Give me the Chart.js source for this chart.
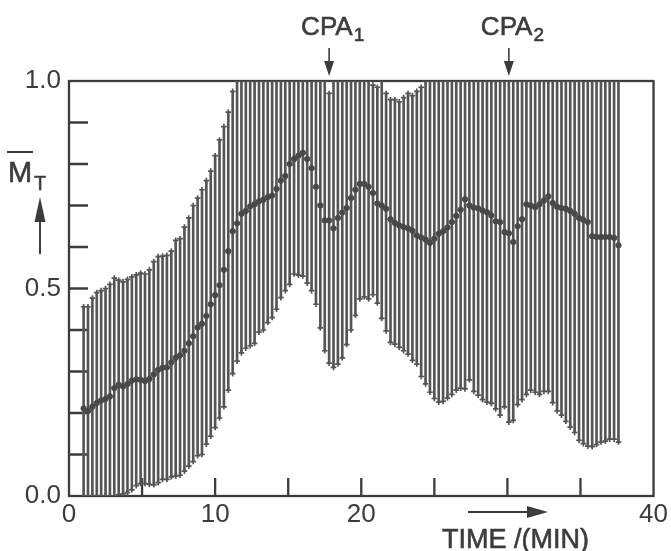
<!DOCTYPE html>
<html>
<head>
<meta charset="utf-8">
<script src="https://cdn.jsdelivr.net/npm/chart.js@4.4.1/dist/chart.umd.min.js"></script>
<style>
  html, body { margin: 0; background: #fff; }
  #wrap { width: 671px; height: 551px; }
</style>
</head>
<body>
<div id="wrap"><canvas id="chart"></canvas></div>
<script>
// time in minutes, one sample per bar
const times = [
  1.0, 1.3, 1.6, 1.9, 2.2, 2.5, 2.8, 3.1, 3.4, 3.7,
  4.0, 4.3, 4.6, 4.9, 5.2, 5.5, 5.8, 6.1, 6.4, 6.7,
  7.0, 7.3, 7.6, 7.9, 8.2, 8.5, 8.8, 9.1, 9.4, 9.7,
  10.0, 10.3, 10.6, 10.9, 11.2, 11.5, 11.8, 12.1, 12.4, 12.7,
  13.0, 13.3, 13.6, 13.9, 14.2, 14.5, 14.8, 15.1, 15.4, 15.7,
  16.0, 16.3, 16.6, 16.9, 17.2, 17.5, 17.8, 18.1, 18.4, 18.7,
  19.0, 19.3, 19.6, 19.9, 20.2, 20.5, 20.8, 21.1, 21.4, 21.7,
  22.0, 22.3, 22.6, 22.9, 23.2, 23.5, 23.8, 24.1, 24.4, 24.7,
  25.0, 25.3, 25.6, 25.9, 26.2, 26.5, 26.8, 27.1, 27.4, 27.7,
  28.0, 28.3, 28.6, 28.9, 29.2, 29.5, 29.8, 30.1, 30.4, 30.7,
  31.0, 31.3, 31.6, 31.9, 32.2, 32.5, 32.8, 33.1, 33.4, 33.7,
  34.0, 34.3, 34.6, 34.9, 35.2, 35.5, 35.8, 36.1, 36.4, 36.7,
  37.0, 37.3, 37.6
];
const upper = [
  .456, .456, .477, .49, .495, .50, .51, .525, .52, .516,
  .522, .528, .533, .537, .535, .545, .565, .577, .578, .58,
  .59, .616, .62, .648, .67, .70, .718, .738, .76, .783,
  .82, .858, .89, .925, .975, 1, 1, 1, 1, 1,
  1, 1, 1, 1, 1, 1, 1, 1, 1, 1,
  1, 1, 1, 1, 1, 1, .97, 1, 1, 1,
  1, 1, 1, 1, 1, 1, .99, .985, 1, .97,
  .955, .955, .95, .96, .97, .965, .975, .985, 1, 1,
  1, 1, 1, 1, 1, 1, 1, 1, 1, 1,
  1, 1, 1, 1, 1, 1, 1, 1, 1, 1,
  1, 1, 1, 1, 1, 1, 1, 1, 1, 1,
  1, 1, 1, 1, 1, 1, 1, 1, 1, 1,
  1, 1, 1
];
const mean = [
  .211, .205, .215, .224, .23, .234, .24, .26, .268, .264,
  .27, .278, .281, .28, .277, .282, .293, .304, .309, .31,
  .322, .333, .339, .35, .368, .385, .406, .415, .434, .462,
  .484, .508, .545, .59, .638, .657, .68, .687, .698, .703,
  .71, .714, .72, .724, .74, .76, .771, .80, .812, .82,
  .827, .812, .79, .745, .70, .664, .664, .645, .67, .683,
  .694, .718, .738, .752, .752, .745, .73, .705, .70, .692,
  .667, .658, .652, .648, .645, .639, .628, .623, .618, .61,
  .62, .632, .638, .647, .66, .675, .69, .715, .70, .695,
  .693, .688, .684, .676, .662, .66, .636, .633, .612, .65,
  .667, .703, .70, .696, .703, .712, .722, .706, .697, .694,
  .692, .687, .68, .67, .665, .66, .626, .624, .624, .624,
  .624, .622, .604
];
const lower = [
  0, 0, 0, 0, 0, 0, 0, 0, .003, .005,
  .008, .015, .025, .03, .03, .028, .027, .032, .04, .04,
  .046, .048, .05, .06, .072, .083, .097, .10, .125, .144,
  .165, .188, .215, .255, .295, .325, .345, .356, .362, .368,
  .395, .40, .418, .43, .45, .478, .495, .51, .535, .532,
  .53, .513, .495, .462, .405, .35, .32, .31, .318, .333,
  .365, .40, .435, .475, .48, .475, .485, .465, .428, .398,
  .37, .366, .358, .35, .342, .327, .318, .288, .27, .25,
  .235, .226, .228, .236, .245, .255, .26, .258, .28, .252,
  .243, .232, .226, .223, .21, .195, .215, .178, .182, .22,
  .232, .245, .255, .25, .245, .252, .252, .225, .205, .195,
  .18, .166, .153, .134, .126, .12, .119, .124, .13, .132,
  .137, .137, .13
];

const xLabelTicks = [0, 10, 20, 40];
const xMinorTicks = [5, 10, 15, 20, 25, 30, 35];
const yLabelTicks = [0, 0.5, 1.0];
const yMinorTicks = [0.1, 0.2, 0.3, 0.4, 0.5, 0.6, 0.7, 0.8, 0.9];
const cpaTimes = [17.8, 30.1];
const cpaIndex = ['1', '2'];

const ink = '#3c3c3c';
const barInk = '#555555';
const font = 'Liberation Sans';

// draws text a little heavier, like the printed original
function inkText(ctx, s, x, y) {
    ctx.fillText(s, x, y);
    ctx.lineWidth = 0.6;
    ctx.strokeText(s, x, y);
}

const decor = {
    id: 'decor',
    beforeDatasetsDraw(chart) {
        const { ctx, chartArea: a, scales: { x, y } } = chart;
        ctx.save();
        ctx.strokeStyle = ink;
        ctx.lineWidth = 2.3;
        ctx.strokeRect(a.left, a.top, a.right - a.left, a.bottom - a.top);
        ctx.beginPath();
        for (const v of yMinorTicks) {
            const py = y.getPixelForValue(v);
            ctx.moveTo(a.left, py);
            ctx.lineTo(a.left + 19, py);
        }
        for (const v of xMinorTicks) {
            const px = x.getPixelForValue(v);
            ctx.moveTo(px, a.bottom);
            ctx.lineTo(px, a.bottom - 18);
        }
        ctx.stroke();
        ctx.restore();
    },
    afterDraw(chart) {
        const { ctx, scales: { x } } = chart;
        ctx.save();
        ctx.fillStyle = ink;
        ctx.strokeStyle = ink;
        ctx.textBaseline = 'alphabetic';

        // y axis title: M-bar with subscript T and an up arrow
        ctx.font = '29px "' + font + '"';
        inkText(ctx, 'M', 8, 182);
        ctx.lineWidth = 2;
        ctx.beginPath();
        ctx.moveTo(7, 152);
        ctx.lineTo(33, 152);
        ctx.stroke();
        ctx.font = '20px "' + font + '"';
        inkText(ctx, 'T', 34, 190);
        ctx.lineWidth = 2;
        ctx.beginPath();
        ctx.moveTo(40, 254);
        ctx.lineTo(40, 218);
        ctx.stroke();
        ctx.beginPath();
        ctx.moveTo(40, 197);
        ctx.lineTo(34.5, 222);
        ctx.lineTo(45.5, 222);
        ctx.closePath();
        ctx.fill();

        // CPA markers
        cpaTimes.forEach((t, i) => {
            const px = x.getPixelForValue(t);
            ctx.font = '26px "' + font + '"';
            inkText(ctx, 'CPA', px - 28, 35);
            const w = ctx.measureText('CPA').width;
            ctx.font = '19px "' + font + '"';
            inkText(ctx, cpaIndex[i], px - 28 + w + 1, 41);
            ctx.lineWidth = 1.6;
            ctx.beginPath();
            ctx.moveTo(px, 48);
            ctx.lineTo(px, 63);
            ctx.stroke();
            ctx.beginPath();
            ctx.moveTo(px, 76);
            ctx.lineTo(px - 5, 61);
            ctx.lineTo(px + 5, 61);
            ctx.closePath();
            ctx.fill();
        });

        // x axis title with arrow
        ctx.font = '27px "' + font + '"';
        inkText(ctx, 'TIME /(MIN)', 442, 548);
        ctx.lineWidth = 2;
        ctx.beginPath();
        ctx.moveTo(468, 512);
        ctx.lineTo(530, 512);
        ctx.stroke();
        ctx.beginPath();
        ctx.moveTo(548, 512);
        ctx.lineTo(527, 506);
        ctx.lineTo(527, 518);
        ctx.closePath();
        ctx.fill();
        ctx.restore();
    }
};

new Chart(document.getElementById('chart'), {
    type: 'bar',
    data: {
        datasets: [{
            type: 'line',
            label: 'mean',
            data: times.map((t, i) => ({ x: t, y: mean[i] })),
            showLine: false,
            pointStyle: 'circle',
            pointRadius: 2.7,
            pointBackgroundColor: '#484848',
            pointBorderColor: '#484848',
            pointBorderWidth: 1,
            order: 1
        }, {
            type: 'line',
            label: 'upper',
            data: times.map((t, i) => ({ x: t, y: upper[i] })),
            showLine: false,
            pointStyle: 'cross',
            pointRadius: 2.8,
            pointBorderColor: barInk,
            pointBorderWidth: 1.7,
            order: 2
        }, {
            type: 'line',
            label: 'lower',
            data: times.map((t, i) => ({ x: t, y: lower[i] })),
            showLine: false,
            pointStyle: 'cross',
            pointRadius: 2.8,
            pointBorderColor: barInk,
            pointBorderWidth: 1.7,
            order: 2
        }, {
            label: 'range',
            data: times.map((t, i) => ({ x: t, y: [lower[i], upper[i]] })),
            backgroundColor: barInk,
            barThickness: 2,
            order: 3
        }]
    },
    options: {
        responsive: true,
        maintainAspectRatio: false,
        animation: false,
        layout: { padding: { top: 81, right: 17, left: 0, bottom: 0 } },
        plugins: {
            legend: { display: false },
            tooltip: { enabled: false }
        },
        scales: {
            x: {
                type: 'linear',
                offset: false,
                min: 0,
                max: 40,
                grid: { display: false, drawTicks: false, offset: false },
                border: { display: false },
                afterBuildTicks: s => { s.ticks = xLabelTicks.map(v => ({ value: v })); },
                afterFit: s => { s.height = 55; },
                ticks: {
                    color: ink,
                    font: { family: font, size: 26 },
                    padding: 3,
                    maxRotation: 0,
                    autoSkip: false
                }
            },
            y: {
                min: 0,
                max: 1,
                grid: { display: false, drawTicks: false },
                border: { display: false },
                afterBuildTicks: s => { s.ticks = yLabelTicks.map(v => ({ value: v })); },
                afterFit: s => { s.width = 69; },
                ticks: {
                    color: ink,
                    font: { family: font, size: 26 },
                    padding: 8,
                    callback: v => Number(v).toFixed(1)
                }
            }
        }
    },
    plugins: [decor]
});
</script>
</body>
</html>
